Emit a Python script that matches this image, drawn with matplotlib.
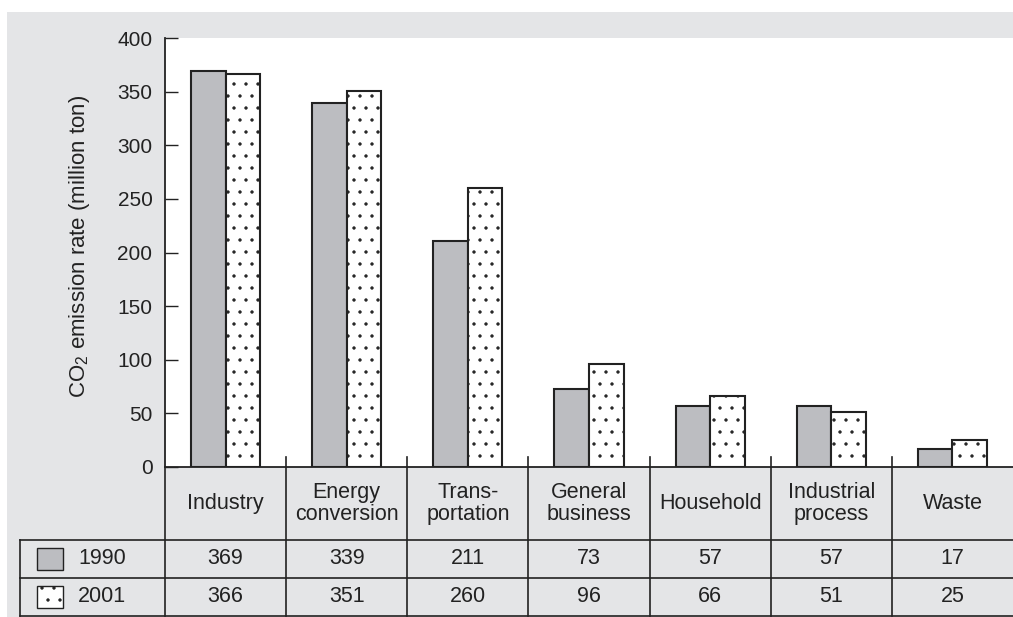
import numpy as np
import matplotlib
matplotlib.use('Agg')
import matplotlib.pyplot as plt
from matplotlib.patches import Rectangle
from matplotlib.transforms import blended_transform_factory

# data
categories = ['Industry', 'Energy\nconversion', 'Trans-\nportation', 'General\nbusiness',
              'Household', 'Industrial\nprocess', 'Waste']
v1990 = [369, 339, 211, 73, 57, 57, 17]
v2001 = [366, 351, 260, 96, 66, 51, 25]
years = ['1990', '2001']
yticks = [0, 50, 100, 150, 200, 250, 300, 350, 400]

plt.rcParams['font.family'] = ['Liberation Sans', 'DejaVu Sans']
plt.rcParams['mathtext.fontset'] = 'custom'
plt.rcParams['mathtext.rm'] = 'Liberation Sans'
plt.rcParams['mathtext.it'] = 'Liberation Sans:italic'

# drawn at 72 dpi so the '.' hatch gets a 12 px dot grid; sizes below are
# given as if at 100 dpi and scaled by S
DPI = 72
S = 100 / DPI
plt.rcParams['hatch.linewidth'] = 0.9

INK = '#222222'
GRAY = '#bcbdc1'
BG = '#e4e5e7'

# layout in pixels of the 1013x617 picture
W, H = 1013, 617
x_ax0, x_ax1 = 165, 1013
y_top, y_zero = 38, 467
y_head, y_row1, y_row2 = 540, 578, 616
x_leg = 20

fig = plt.figure(figsize=(W / DPI, H / DPI), dpi=DPI)
fig.add_artist(Rectangle((7 / W, 0), 1 - 7 / W, 1 - 12 / H, transform=fig.transFigure,
                         facecolor=BG, edgecolor='none', zorder=-5))

ax = fig.add_axes([x_ax0 / W, (H - y_zero) / H, (x_ax1 - x_ax0) / W, (y_zero - y_top) / H])
ax.set_facecolor('white')

x = np.arange(len(categories))
w = 0.285
ax.bar(x - w / 2, v1990, w, color=GRAY, edgecolor=INK, linewidth=1.5 * S)
ax.bar(x + w / 2, v2001, w, color='white', edgecolor=INK, linewidth=1.5 * S, hatch='.')

ax.set_xlim(-0.5, len(categories) - 0.5)
ax.set_ylim(0, 400)
ax.set_xticks([])
ax.set_yticks(yticks)
ax.tick_params(axis='y', direction='in', length=9.5 * S, width=1.0 * S, colors=INK,
               labelsize=15 * S, pad=9 * S)
for s in ['top', 'right']:
    ax.spines[s].set_visible(False)
for s in ['left', 'bottom']:
    ax.spines[s].set_color(INK)
    ax.spines[s].set_linewidth(1.3 * S)

ax.set_ylabel('CO$_2$ emission rate (million ton)', fontsize=16 * S, color=INK)
ax.yaxis.set_label_coords(-0.086, 0.515)

# table below the bars
hpx = y_zero - y_top
wpx = x_ax1 - x_ax0
def ay(py):
    return (y_zero - py) / hpx
def axx(px):
    return (px - x_ax0) / wpx

trans = blended_transform_factory(ax.transData, ax.transAxes)
line_kw = dict(color=INK, linewidth=1.2 * S, clip_on=False)

for k in range(len(categories) - 1):
    ax.plot([k + 0.5, k + 0.5], [10 / hpx, ay(y_row2)], transform=trans, **line_kw)
ax.plot([0, 0], [0, ay(y_row2)], transform=ax.transAxes, **line_kw)
for py in [y_head, y_row1, y_row2]:
    ax.plot([axx(x_leg), 1], [ay(py), ay(py)], transform=ax.transAxes, **line_kw)
ax.plot([axx(x_leg), axx(x_leg)], [ay(y_head), ay(y_row2)], transform=ax.transAxes, **line_kw)

fs = 15.5 * S
for i, name in enumerate(categories):
    ax.text(i, ay((y_zero + y_head) / 2), name, transform=trans, ha='center', va='center',
            fontsize=fs, color=INK, linespacing=1.05)
    ax.text(i, ay((y_head + y_row1) / 2), str(v1990[i]), transform=trans, ha='center',
            va='center', fontsize=fs, color=INK)
    ax.text(i, ay((y_row1 + y_row2) / 2), str(v2001[i]), transform=trans, ha='center',
            va='center', fontsize=fs, color=INK)

# legend swatches in the first column
styles = [dict(facecolor=GRAY), dict(facecolor='white', hatch='.')]
for (top, bot), yr, st in zip([(y_head, y_row1), (y_row1, y_row2)], years, styles):
    mid = (top + bot) / 2
    ax.add_patch(Rectangle((axx(37), ay(mid + 11)), 26 / wpx, 22 / hpx, transform=ax.transAxes,
                           edgecolor=INK, linewidth=1.0 * S, clip_on=False, **st))
    ax.text(axx(78), ay(mid), yr, transform=ax.transAxes, ha='left', va='center',
            fontsize=fs, color=INK)

fig.savefig('out.png', dpi=DPI, facecolor='white')
